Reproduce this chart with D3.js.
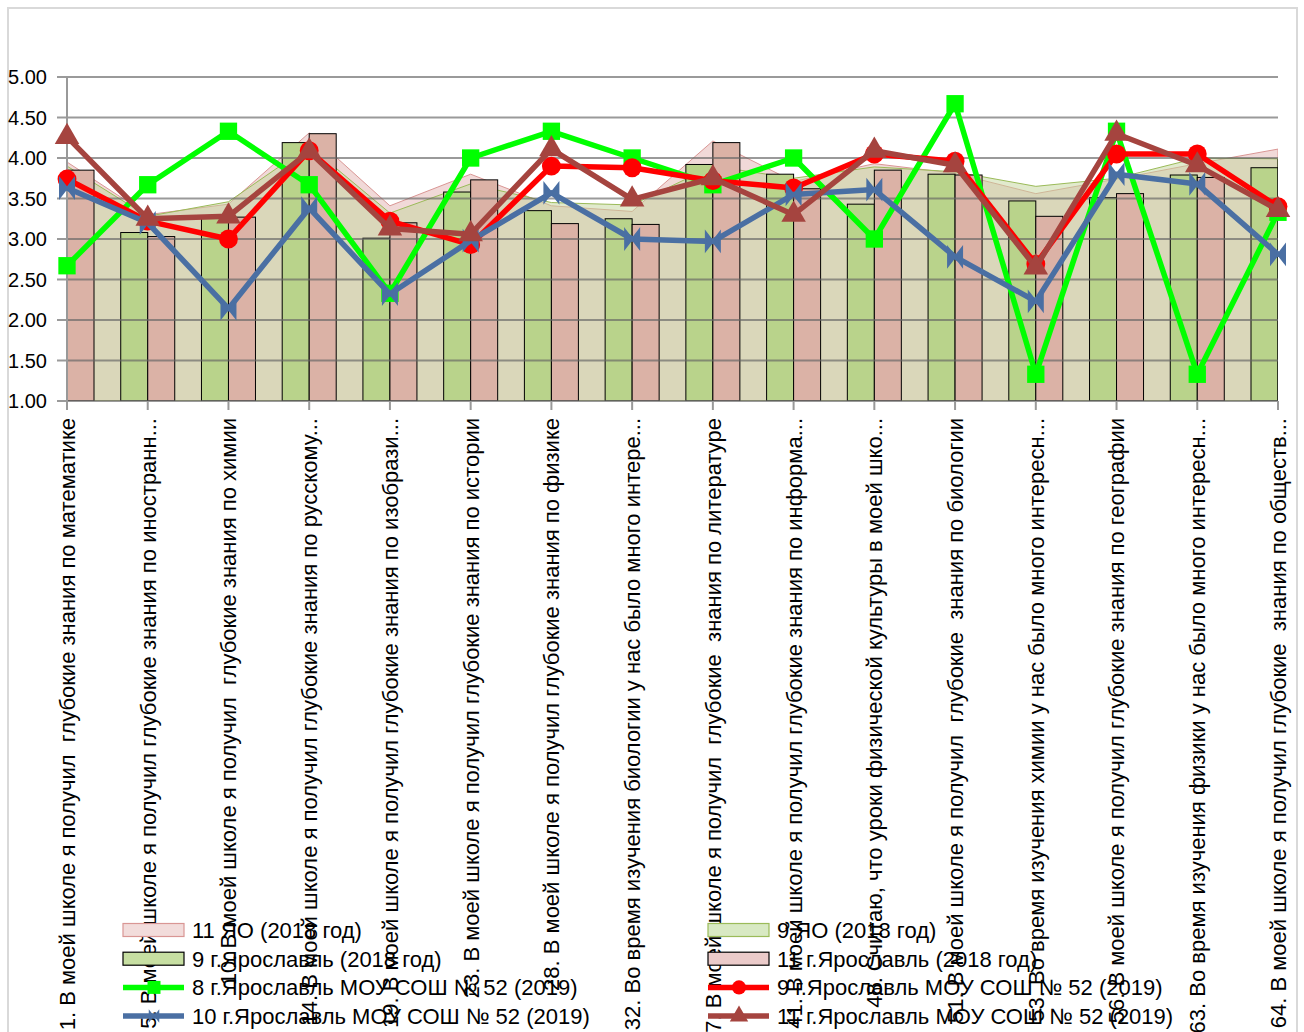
<!DOCTYPE html>
<html>
<head>
<meta charset="utf-8">
<script src="https://cdn.jsdelivr.net/npm/d3@7"></script>
<style>
  body { margin: 0; background: #fff; }
  svg { display: block; font-family: "Liberation Sans", Arial, sans-serif; }
</style>
</head>
<body>
<svg id="chart" width="1304" height="1032"></svg>
<script>
// категории (подписи как на рисунке, с обрезкой)
const categories = [
  '1. В моей школе я получил  глубокие знания по математике',
  '5. В моей школе я получил глубокие знания по иностранн...',
  '10. В моей школе я получил  глубокие знания по химии',
  '14. В моей школе я получил глубокие знания по русскому...',
  '19. В моей школе я получил глубокие знания по изобрази...',
  '23. В моей школе я получил глубокие знания по истории',
  '28. В моей школе я получил глубокие знания по физике',
  '32. Во время изучения биологии у нас было много интере...',
  '37. В моей школе я получил  глубокие  знания по литературе',
  '41. В моей школе я получил глубокие знания по информа...',
  '48. Считаю, что уроки физической культуры в моей шко...',
  '51. В моей школе я получил  глубокие  знания по биологии',
  '53. Во время изучения химии у нас было много интересн...',
  '56. В моей школе я получил глубокие знания по географии',
  '63. Во время изучения физики у нас было много интересн...',
  '64. В моей школе я получил глубокие  знания по обществ...'
];

const yTicks = [1, 1.5, 2, 2.5, 3, 3.5, 4, 4.5, 5];

// области (ЯО 2018)
const yo11 = [3.95, 3.30, 3.43, 4.31, 3.41, 3.80, 3.41, 3.34, 4.21, 3.71, 3.93, 3.81, 3.56, 3.74, 3.93, 4.11];
const yo9  = [3.90, 3.28, 3.46, 4.15, 3.32, 3.68, 3.45, 3.42, 3.90, 3.75, 3.89, 3.83, 3.65, 3.75, 4.00, 3.99];

// столбцы (г.Ярославль 2018)
const city9  = [3.70, 3.08, 3.27, 4.19, 3.01, 3.58, 3.35, 3.25, 3.92, 3.80, 3.43, 3.80, 3.47, 3.51, 3.79, 3.88];
const city11 = [3.85, 3.03, 3.27, 4.30, 3.20, 3.73, 3.19, 3.18, 4.19, 3.62, 3.85, 3.79, 3.28, 3.56, 3.76, 3.98];

// линии (МОУ СОШ № 52, 2019)
const s8  = [2.67, 3.67, 4.33, 3.67, 2.33, 4.00, 4.33, 4.00, 3.67, 4.00, 3.00, 4.67, 1.33, 4.33, 1.33, 3.33];
const s9  = [3.74, 3.22, 3.00, 4.09, 3.22, 2.93, 3.90, 3.88, 3.72, 3.63, 4.05, 3.96, 2.69, 4.05, 4.05, 3.40];
const s10 = [3.63, 3.20, 2.14, 3.38, 2.32, 2.98, 3.57, 3.00, 2.97, 3.55, 3.61, 2.78, 2.23, 3.80, 3.68, 2.81];
const s11 = [4.26, 3.25, 3.28, 4.08, 3.13, 3.06, 4.11, 3.49, 3.75, 3.30, 4.09, 3.91, 2.65, 4.30, 3.91, 3.36];

const svg = d3.select('#chart');
const plotL = 67, plotR = 1278, plotT = 77, plotB = 401;

const x = d3.scalePoint().domain(d3.range(categories.length)).range([plotL, plotR]);
const y = d3.scaleLinear().domain([1, 5]).range([plotB, plotT]);

// рамка
svg.append('rect')
  .attr('x', 8).attr('y', 8).attr('width', 1289).attr('height', 1040)
  .attr('fill', 'none').attr('stroke', '#d9d9d9').attr('stroke-width', 2);

svg.append('clipPath').attr('id', 'plot')
  .append('rect').attr('x', plotL).attr('y', plotT - 5).attr('width', plotR - plotL).attr('height', plotB - plotT + 5);

const plot = svg.append('g').attr('clip-path', 'url(#plot)');

// области
const area = (vals) => d3.area()
  .x((d, i) => x(i)).y0(y(1)).y1(d => y(d))(vals);

plot.append('path').attr('d', area(yo11))
  .attr('fill', '#e6b9b8').attr('fill-opacity', 0.55)
  .attr('stroke', '#d99694').attr('stroke-width', 1);
plot.append('path').attr('d', area(yo9))
  .attr('fill', '#c3d69b').attr('fill-opacity', 0.5)
  .attr('stroke', '#9bbb59').attr('stroke-width', 1);

// столбцы
const bw = 27;
plot.selectAll('.b9').data(city9).enter().append('rect')
  .attr('x', (d, i) => x(i) - bw).attr('y', d => y(d))
  .attr('width', bw).attr('height', d => y(1) - y(d))
  .attr('fill', '#b9d38b').attr('stroke', '#000').attr('stroke-width', 1);
plot.selectAll('.b11').data(city11).enter().append('rect')
  .attr('x', (d, i) => x(i)).attr('y', d => y(d))
  .attr('width', bw).attr('height', d => y(1) - y(d))
  .attr('fill', '#dbb2a6').attr('stroke', '#000').attr('stroke-width', 1);

// сетка поверх
svg.append('g').selectAll('line').data(yTicks).enter().append('line')
  .attr('x1', plotL - 10).attr('x2', plotR)
  .attr('y1', d => y(d)).attr('y2', d => y(d))
  .attr('stroke', 'rgb(100,100,100)').attr('stroke-opacity', 0.65).attr('stroke-width', 2);

svg.append('line').attr('x1', plotL).attr('x2', plotL).attr('y1', plotT).attr('y2', plotB + 9)
  .attr('stroke', '#999').attr('stroke-width', 2);

svg.append('g').selectAll('line').data(d3.range(categories.length)).enter().append('line')
  .attr('x1', d => x(d)).attr('x2', d => x(d)).attr('y1', plotB).attr('y2', plotB + 9)
  .attr('stroke', '#999').attr('stroke-width', 2);

svg.append('g').selectAll('text').data(yTicks).enter().append('text')
  .attr('x', 47).attr('y', d => y(d)).attr('dy', '0.36em')
  .attr('text-anchor', 'end').attr('font-size', 20).attr('fill', '#000')
  .text(d => d.toFixed(2));

// подписи категорий
svg.append('g').selectAll('text').data(categories).enter().append('text')
  .attr('transform', (d, i) => `translate(${x(i)},418) rotate(-90)`)
  .attr('dy', '0.36em').attr('text-anchor', 'end')
  .attr('font-size', 22).attr('fill', '#000')
  .style('white-space', 'pre')
  .text(d => d);

// маркеры
const sym = {
  square: d3.symbol().type(d3.symbolSquare).size(300)(),
  circle: d3.symbol().type(d3.symbolCircle).size(280)(),
  triangle: d3.symbol().type(d3.symbolTriangle).size(260)(),
  bowtie: 'M-7,-9L0,0L-7,9ZM7,-9L0,0L7,9Z'
};
const lineSeries = [
  { vals: s8, color: '#00ff00', marker: 'square' },
  { vals: s9, color: '#ff0000', marker: 'circle' },
  { vals: s10, color: '#4a6fa3', marker: 'bowtie' },
  { vals: s11, color: '#a5443f', marker: 'triangle' }
];
const line = d3.line().x((d, i) => x(i)).y(d => y(d));
lineSeries.forEach(s => {
  const g = svg.append('g');
  g.append('path').attr('d', line(s.vals))
    .attr('fill', 'none').attr('stroke', s.color).attr('stroke-width', 5.5)
    .attr('stroke-linejoin', 'round');
  g.selectAll('path.m').data(s.vals).enter().append('path')
    .attr('class', 'm')
    .attr('transform', (d, i) => `translate(${x(i)},${y(d)})`)
    .attr('d', sym[s.marker]).attr('fill', s.color)
    .attr('stroke', s.color).attr('stroke-width', s.marker === 'bowtie' ? 2 : 0);
});

// легенда
const legend = [
  { label: '11 ЯО (2018 год)', kind: 'rect', fill: '#f2dcdb', stroke: '#d99694', col: 0, row: 0 },
  { label: '9 г.Ярославль (2018 год)', kind: 'rect', fill: '#c7dfa2', stroke: '#000', col: 0, row: 1 },
  { label: '8 г.Ярославль МОУ СОШ № 52 (2019)', kind: 'line', s: lineSeries[0], col: 0, row: 2 },
  { label: '10 г.Ярославль МОУ СОШ № 52 (2019)', kind: 'line', s: lineSeries[2], col: 0, row: 3 },
  { label: '9 ЯО (2018 год)', kind: 'rect', fill: '#d8e9c3', stroke: '#9bbb59', col: 1, row: 0 },
  { label: '11 г.Ярославль (2018 год)', kind: 'rect', fill: '#ebcbca', stroke: '#000', col: 1, row: 1 },
  { label: '9 г.Ярославль МОУ СОШ № 52 (2019)', kind: 'line', s: lineSeries[1], col: 1, row: 2 },
  { label: '11 г.Ярославль МОУ СОШ № 52 (2019)', kind: 'line', s: lineSeries[3], col: 1, row: 3 }
];
const colX = [123, 708];
legend.forEach(L => {
  const lx = colX[L.col], ly = 930 + L.row * 28.7;
  const g = svg.append('g');
  if (L.kind === 'rect') {
    g.append('rect').attr('x', lx).attr('y', ly - 6.5).attr('width', 61).attr('height', 13)
      .attr('fill', L.fill).attr('stroke', L.stroke).attr('stroke-width', 1.2);
  } else {
    g.append('line').attr('x1', lx).attr('x2', lx + 61).attr('y1', ly).attr('y2', ly)
      .attr('stroke', L.s.color).attr('stroke-width', 5.5);
    g.append('path').attr('transform', `translate(${lx + 31},${ly}) scale(0.75)`)
      .attr('d', sym[L.s.marker]).attr('fill', L.s.color);
  }
  g.append('text').attr('x', lx + 69).attr('y', ly).attr('dy', '0.36em')
    .attr('font-size', 22).attr('fill', '#000').text(L.label);
});
</script>
</body>
</html>
